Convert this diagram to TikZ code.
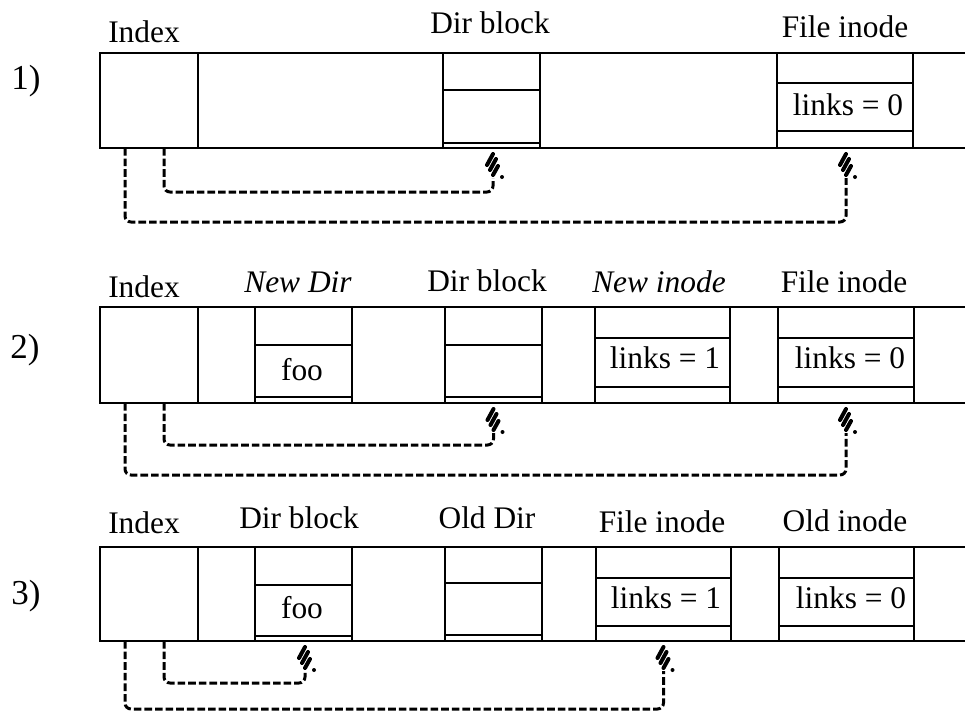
\documentclass[tikz,border=0pt]{standalone}
\usepackage{fontspec}
\setmainfont{Liberation Serif}
\usetikzlibrary{fit,calc}
\newcommand\lf{\fontsize{15.7}{18}\selectfont}
\newcommand\rf{\fontsize{17.5}{20}\selectfont}
\tikzset{
  framel/.style={line width=1.3pt},
  blk/.style={draw, line width=1.2pt, inner sep=0pt, outer sep=0pt},
  cellln/.style={line width=1pt},
  lbl/.style={font=\lf, anchor=base, inner sep=0pt},
  rowlbl/.style={font=\rf, anchor=center, inner sep=0pt},
  ptr/.style={line width=1.5pt, dash pattern=on 3.8pt off 1.5pt, rounded corners=3pt},
  hatchmark/.pic={
    \draw[line width=2pt, line cap=round] (-6,-13) -- (0,-24);
    \draw[line width=2pt, line cap=round] (-3,-8) -- (3,-19);
    \draw[line width=2pt, line cap=round] (0,-3) -- (5,-12);
    \fill (9,-1) circle (1pt);
  }
}
\newcommand\blkn[5]{\node[blk, fit={(#2,#4)(#3,#5)}] (#1) {};}
\newcommand\lnk[3]{%
  \draw[ptr] (#1) -- ++(0,#2) -| (#3);
  \pic at (#3) {hatchmark};}
\begin{document}
\begin{tikzpicture}[x=0.5pt,y=-0.5pt]
\useasboundingbox (0,0) rectangle (965,713);

% ---------------- Row 1 ----------------
\node[rowlbl] (r1) at (26,81) {1)};
\draw[framel] (965,53) -- (100,53) -- (100,148) -- (965,148);
\blkn{idx1}{100}{198}{53}{148}
\blkn{dir1}{443}{540}{53}{148}
\blkn{fi1}{777}{913}{53}{148}
\draw[cellln] (443,90) -- (540,90);
\draw[cellln] (443,143) -- (540,143);
\draw[cellln] (777,83) -- (913,83);
\draw[cellln] (777,131) -- (913,131);
\node[lbl] (l1a) at (144,42) {Index};
\node[lbl] (l1b) at (490,33) {Dir block};
\node[lbl] (l1c) at (845,37) {File inode};
\node[lbl] (t1a) at (848,115) {links = 0};
\coordinate (s1i) at ($(idx1.south west)+(64,0)$);
\coordinate (s1o) at ($(idx1.south west)+(25,0)$);
\coordinate (h1i) at ($(dir1.south)+(1.5,30)$);
\coordinate (h1o) at ($(fi1.south)+(1,30)$);
\lnk{s1i}{44}{h1i}
\lnk{s1o}{74}{h1o}

% ---------------- Row 2 ----------------
\node[rowlbl] (r2) at (25,350) {2)};
\draw[framel] (965,307) -- (100,307) -- (100,403) -- (965,403);
\blkn{idx2}{100}{198}{307}{403}
\blkn{nd2}{255}{352}{307}{403}
\blkn{dir2}{445}{542}{307}{403}
\blkn{ni2}{595}{730}{307}{403}
\blkn{fi2}{778}{914}{307}{403}
\draw[cellln] (255,345) -- (352,345);
\draw[cellln] (255,397) -- (352,397);
\draw[cellln] (445,345) -- (542,345);
\draw[cellln] (445,397) -- (542,397);
\draw[cellln] (595,338) -- (730,338);
\draw[cellln] (595,387) -- (730,387);
\draw[cellln] (778,338) -- (914,338);
\draw[cellln] (778,387) -- (914,387);
\node[lbl] (l2a) at (144,297) {Index};
\node[lbl] (l2b) at (298,292) {\itshape New Dir};
\node[lbl] (l2c) at (487,291) {Dir block};
\node[lbl] (l2d) at (659,292) {\itshape New inode};
\node[lbl] (l2e) at (844,292) {File inode};
\node[lbl] (t2a) at (302,380) {foo};
\node[lbl] (t2b) at (665,368) {links = 1};
\node[lbl] (t2c) at (850,368) {links = 0};
\coordinate (s2i) at ($(idx2.south west)+(64,0)$);
\coordinate (s2o) at ($(idx2.south west)+(25,0)$);
\coordinate (h2i) at ($(dir2.south)+(0,30)$);
\coordinate (h2o) at ($(fi2.south)+(0,30)$);
\lnk{s2i}{42}{h2i}
\lnk{s2o}{72}{h2o}

% ---------------- Row 3 ----------------
\node[rowlbl] (r3) at (26,596) {3)};
\draw[framel] (965,547) -- (100,547) -- (100,641) -- (965,641);
\blkn{idx3}{100}{198}{547}{641}
\blkn{db3}{255}{352}{547}{641}
\blkn{od3}{445}{542}{547}{641}
\blkn{fi3}{596}{731}{547}{641}
\blkn{oi3}{779}{914}{547}{641}
\draw[cellln] (255,585) -- (352,585);
\draw[cellln] (255,636) -- (352,636);
\draw[cellln] (445,583) -- (542,583);
\draw[cellln] (445,635) -- (542,635);
\draw[cellln] (596,578) -- (731,578);
\draw[cellln] (596,626) -- (731,626);
\draw[cellln] (779,578) -- (914,578);
\draw[cellln] (779,626) -- (914,626);
\node[lbl] (l3a) at (144,533) {Index};
\node[lbl] (l3b) at (299,528) {Dir block};
\node[lbl] (l3c) at (487,528) {Old Dir};
\node[lbl] (l3d) at (662,532) {File inode};
\node[lbl] (l3e) at (845,531) {Old inode};
\node[lbl] (t3a) at (302,618) {foo};
\node[lbl] (t3b) at (666,608) {links = 1};
\node[lbl] (t3c) at (851,608) {links = 0};
\coordinate (s3i) at ($(idx3.south west)+(64,0)$);
\coordinate (s3o) at ($(idx3.south west)+(25,0)$);
\coordinate (h3i) at ($(db3.south)+(1.5,30)$);
\coordinate (h3o) at ($(fi3.south)+(0,30)$);
\lnk{s3i}{42}{h3i}
\lnk{s3o}{68}{h3o}
\end{tikzpicture}
\end{document}
